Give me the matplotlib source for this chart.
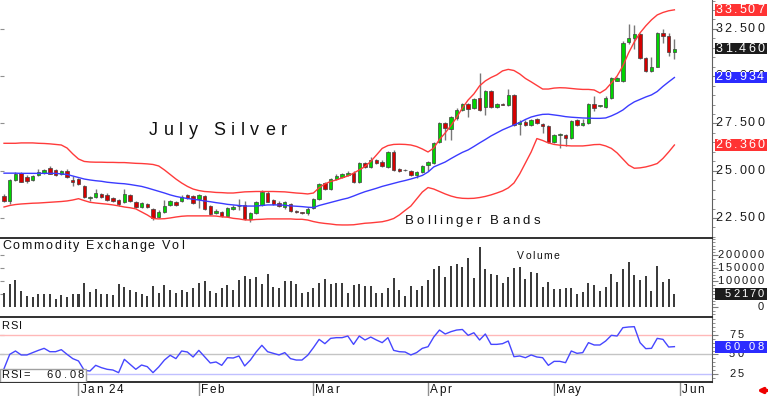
import matplotlib
matplotlib.use('Agg')
import matplotlib.pyplot as plt
import matplotlib.transforms as mtransforms
from matplotlib.patches import Rectangle
from matplotlib.ticker import MultipleLocator
import numpy as np
import pandas as pd

plt.rcParams['font.family'] = ['Liberation Sans', 'DejaVu Sans']

# trading calendar (COMEX closed on these days)
holidays = ['2023-12-25', '2024-01-01', '2024-01-15', '2024-02-19',
            '2024-03-29', '2024-05-27']
calendar = pd.bdate_range('2023-12-12', '2024-06-28')
calendar = calendar[~calendar.isin(pd.to_datetime(holidays))]

opens = [23.67, 23.42, 24.51, 24.88, 24.67, 24.51, 24.78, 24.87, 25.15, 25.04,
         24.83, 25.00, 24.51, 24.56, 24.21, 23.57, 23.60, 23.76, 23.72, 23.56,
         23.45, 23.36, 23.72, 23.36, 23.10, 23.24, 23.00, 22.54, 22.83, 23.19,
         23.36, 23.40, 23.72, 23.67, 23.49, 23.67, 23.15, 22.75, 22.80, 22.63,
         22.98, 23.15, 23.19, 22.47, 22.78, 23.20, 23.81, 23.45, 23.31, 23.10,
         23.22, 22.89, 22.80, 22.78, 23.03, 23.50, 24.34, 24.02, 24.58, 24.67,
         24.78, 24.90, 24.42, 25.39, 25.21, 25.57, 25.48, 25.21, 26.01, 25.09,
         25.06, 25.00, 24.78, 24.92, 25.30, 25.39, 26.51, 27.51, 27.21, 27.78,
         28.22, 28.52, 28.30, 28.83, 28.36, 29.22, 28.39, 28.53, 28.48, 29.01,
         27.48, 27.60, 27.42, 27.74, 27.47, 27.38, 26.51, 26.89, 26.89, 26.75,
         27.69, 27.42, 27.51, 28.55, 28.42, 28.36, 28.83, 29.77, 29.77, 31.83,
         32.04, 32.22, 30.98, 30.28, 30.51, 32.30, 32.15, 31.30]
closes = [23.42, 24.51, 24.83, 24.41, 24.46, 24.72, 24.94, 25.04, 24.83, 24.79,
          24.99, 24.69, 24.41, 24.30, 23.60, 23.63, 23.83, 23.63, 23.45, 23.42,
          23.24, 23.77, 23.40, 23.10, 23.30, 23.08, 22.50, 22.83, 23.13, 23.40,
          23.19, 23.63, 23.58, 23.28, 23.70, 22.98, 22.71, 22.89, 22.62, 23.05,
          23.10, 23.12, 22.45, 22.75, 23.33, 23.86, 23.37, 23.24, 23.15, 23.33,
          22.87, 22.84, 22.77, 22.98, 23.52, 24.28, 24.04, 24.56, 24.73, 24.83,
          24.90, 24.42, 25.41, 25.21, 25.57, 25.39, 25.27, 25.98, 25.04, 24.99,
          25.02, 24.78, 24.95, 25.25, 25.45, 26.45, 27.51, 27.25, 27.86, 28.22,
          28.52, 28.25, 28.80, 28.22, 29.22, 28.39, 28.53, 28.50, 29.01, 27.42,
          27.60, 27.42, 27.69, 27.51, 27.38, 26.51, 26.89, 26.92, 26.75, 27.65,
          27.42, 27.54, 28.52, 28.30, 28.45, 28.83, 29.89, 29.89, 31.78, 32.04,
          32.22, 30.95, 30.28, 30.51, 32.30, 32.15, 31.30, 31.46]
highs = [23.75, 24.55, 24.92, 24.95, 24.76, 24.78, 25.08, 25.08, 25.27, 25.08,
         25.06, 25.08, 24.70, 24.62, 24.25, 23.66, 24.04, 23.84, 23.80, 23.62,
         23.52, 24.04, 23.78, 23.42, 23.36, 23.30, 23.05, 22.90, 23.45, 23.45,
         23.42, 23.70, 23.78, 23.73, 23.76, 23.72, 23.20, 22.95, 22.86, 23.10,
         23.16, 23.50, 23.40, 22.80, 23.38, 24.00, 23.90, 23.52, 23.38, 23.40,
         23.28, 22.94, 22.84, 23.06, 23.58, 24.34, 24.40, 24.62, 24.85, 24.90,
         24.96, 24.96, 25.46, 25.46, 25.75, 25.63, 25.55, 26.04, 26.10, 25.14,
         25.10, 25.05, 25.00, 25.30, 25.50, 26.50, 27.56, 27.56, 27.92, 28.30,
         28.60, 28.58, 28.86, 30.16, 29.28, 29.26, 28.60, 28.58, 29.30, 29.06,
         27.66, 27.66, 27.75, 27.80, 27.52, 27.42, 26.95, 27.01, 26.95, 27.70,
         27.74, 27.75, 28.56, 28.95, 28.50, 28.95, 29.95, 29.95, 31.84, 32.76,
         32.70, 32.26, 31.02, 31.03, 32.36, 32.48, 32.27, 31.96]
lows = [23.35, 23.24, 24.45, 24.38, 24.36, 24.47, 24.70, 24.84, 24.80, 24.74,
        24.78, 24.64, 24.20, 24.24, 23.55, 23.40, 23.55, 23.58, 23.40, 23.36,
        23.15, 23.30, 23.34, 23.05, 23.04, 23.02, 22.40, 22.48, 22.78, 23.14,
        23.14, 23.35, 23.52, 23.22, 23.05, 22.90, 22.65, 22.70, 22.57, 22.58,
        22.93, 22.92, 22.40, 22.30, 22.73, 23.15, 23.32, 23.18, 23.08, 22.95,
        22.82, 22.78, 22.72, 22.66, 22.98, 23.45, 23.98, 23.96, 24.52, 24.60,
        24.72, 24.36, 24.36, 25.15, 25.15, 25.33, 25.21, 25.15, 24.98, 24.92,
        24.97, 24.72, 24.62, 24.86, 25.00, 25.33, 26.45, 26.65, 26.65, 27.70,
        28.17, 27.86, 28.24, 28.15, 27.95, 28.30, 28.34, 28.45, 28.43, 27.36,
        26.90, 27.36, 27.36, 27.45, 27.00, 26.45, 26.45, 26.19, 26.30, 26.70,
        27.36, 27.38, 27.46, 28.15, 28.36, 28.30, 28.78, 29.72, 29.68, 31.70,
        31.45, 30.90, 30.22, 30.22, 30.46, 31.77, 31.09, 30.90]

bb_upper = [26.45, 26.45, 26.45, 26.47, 26.47, 26.47, 26.45, 26.44, 26.42, 26.39,
            26.36, 26.20, 25.89, 25.62, 25.49, 25.46, 25.45, 25.45, 25.44, 25.44,
            25.43, 25.43, 25.41, 25.39, 25.38, 25.36, 25.33, 25.25, 25.04, 24.80,
            24.56, 24.35, 24.17, 24.03, 23.95, 23.90, 23.88, 23.85, 23.84, 23.82,
            23.82, 23.85, 23.88, 23.89, 23.90, 23.90, 23.90, 23.90, 23.89, 23.88,
            23.85, 23.82, 23.80, 23.77, 23.82, 24.10, 24.30, 24.43, 24.51, 24.62,
            24.72, 24.87, 25.04, 25.22, 25.49, 25.83, 26.18, 26.33, 26.39, 26.40,
            26.39, 26.36, 26.28, 26.15, 25.99, 26.20, 26.65, 27.00, 27.39, 27.82,
            28.32, 28.74, 29.06, 29.49, 29.75, 29.93, 30.07, 30.28, 30.36, 30.30,
            30.12, 29.88, 29.70, 29.51, 29.32, 29.32, 29.37, 29.39, 29.38, 29.35,
            29.32, 29.30, 29.30, 29.27, 29.11, 29.30, 29.64, 30.01, 30.54, 31.23,
            31.81, 32.29, 32.66, 32.98, 33.24, 33.37, 33.46, 33.51]
bb_mid = [24.87, 24.87, 24.87, 24.86, 24.86, 24.86, 24.86, 24.86, 24.86, 24.86,
          24.83, 24.80, 24.72, 24.64, 24.56, 24.51, 24.47, 24.44, 24.39, 24.36,
          24.33, 24.31, 24.27, 24.22, 24.17, 24.09, 24.00, 23.91, 23.82, 23.72,
          23.64, 23.58, 23.53, 23.49, 23.45, 23.40, 23.36, 23.31, 23.27, 23.22,
          23.19, 23.16, 23.13, 23.13, 23.13, 23.16, 23.19, 23.19, 23.19, 23.17,
          23.14, 23.12, 23.10, 23.07, 23.05, 23.16, 23.24, 23.32, 23.40, 23.48,
          23.55, 23.66, 23.78, 23.89, 23.98, 24.07, 24.17, 24.25, 24.33, 24.41,
          24.48, 24.56, 24.65, 24.75, 24.93, 25.20, 25.33, 25.46, 25.64, 25.81,
          25.97, 26.10, 26.28, 26.47, 26.65, 26.84, 27.00, 27.16, 27.29, 27.42,
          27.55, 27.71, 27.84, 27.92, 27.98, 27.99, 27.95, 27.91, 27.86, 27.83,
          27.81, 27.79, 27.78, 27.77, 27.77, 27.79, 27.90, 28.04, 28.21, 28.45,
          28.64, 28.77, 28.90, 29.01, 29.19, 29.46, 29.70, 29.93]
bb_lower = [23.08, 23.16, 23.21, 23.24, 23.26, 23.28, 23.29, 23.31, 23.33, 23.35,
            23.37, 23.40, 23.45, 23.52, 23.42, 23.33, 23.29, 23.26, 23.23, 23.19,
            23.14, 23.08, 23.04, 22.98, 22.82, 22.66, 22.47, 22.45, 22.46, 22.50,
            22.55, 22.59, 22.61, 22.61, 22.61, 22.61, 22.61, 22.60, 22.56, 22.54,
            22.48, 22.45, 22.40, 22.39, 22.42, 22.43, 22.45, 22.45, 22.45, 22.45,
            22.45, 22.43, 22.43, 22.39, 22.31, 22.25, 22.21, 22.18, 22.14, 22.13,
            22.13, 22.14, 22.18, 22.22, 22.24, 22.27, 22.30, 22.37, 22.47, 22.66,
            22.90, 23.13, 23.50, 23.87, 24.11, 24.03, 23.90, 23.77, 23.66, 23.58,
            23.54, 23.53, 23.54, 23.58, 23.64, 23.72, 23.82, 23.93, 24.09, 24.35,
            24.83, 25.41, 25.99, 26.70, 26.60, 26.47, 26.39, 26.35, 26.33, 26.31,
            26.31, 26.31, 26.34, 26.38, 26.39, 26.31, 26.18, 25.94, 25.62, 25.30,
            25.13, 25.15, 25.20, 25.28, 25.38, 25.65, 25.99, 26.36]

volume = [57000, 89000, 106000, 63000, 44000, 40000, 51000, 51000, 51000, 31000,
          47000, 40000, 51000, 53000, 93000, 60000, 70000, 53000, 51000, 48000,
          89000, 79000, 67000, 60000, 51000, 44000, 83000, 55000, 85000, 66000,
          57000, 67000, 60000, 74000, 96000, 102000, 63000, 55000, 76000, 85000,
          67000, 104000, 121000, 108000, 119000, 92000, 128000, 79000, 76000, 102000,
          102000, 92000, 57000, 61000, 76000, 93000, 111000, 92000, 96000, 93000,
          57000, 85000, 89000, 83000, 83000, 55000, 55000, 76000, 112000, 66000,
          44000, 83000, 66000, 83000, 106000, 147000, 160000, 119000, 160000, 166000,
          156000, 189000, 115000, 233000, 147000, 130000, 124000, 96000, 117000, 153000,
          156000, 108000, 138000, 134000, 80000, 98000, 72000, 72000, 74000, 74000,
          52000, 60000, 93000, 87000, 63000, 79000, 128000, 98000, 147000, 175000,
          125000, 106000, 121000, 63000, 160000, 98000, 111000, 52170]

rsi = [31.8, 50.2, 54.5, 49.4, 49.4, 52.4, 55.3, 57.9, 53.6, 53.6,
       56.2, 50.2, 44.7, 41.7, 29.7, 28.8, 36.1, 33.1, 31.0, 30.1,
       26.7, 43.8, 37.4, 31.0, 36.5, 34.4, 26.7, 34.0, 42.9, 49.0,
       44.7, 54.5, 53.2, 46.8, 55.3, 47.2, 39.1, 40.4, 36.1, 45.9,
       45.5, 48.1, 35.3, 42.9, 53.2, 61.8, 53.6, 51.5, 49.4, 52.4,
       44.7, 42.9, 42.9, 49.0, 58.8, 69.4, 63.9, 70.7, 71.6, 71.6,
       73.7, 63.0, 73.7, 68.6, 72.4, 68.6, 65.2, 71.6, 55.3, 53.6,
       53.2, 49.4, 52.4, 57.9, 60.0, 72.4, 81.4, 76.3, 79.3, 81.4,
       82.1, 74.6, 77.9, 68.6, 76.3, 63.0, 63.0, 63.9, 67.3, 47.2,
       48.1, 45.9, 49.4, 46.8, 45.9, 36.1, 41.2, 41.2, 39.5, 54.5,
       51.5, 52.4, 65.2, 62.2, 62.2, 67.3, 74.6, 73.7, 84.4, 85.3,
       85.7, 65.2, 57.5, 57.9, 70.7, 69.4, 59.6, 60.08]

price_ticks = [22.5, 25.0, 27.5, 30.0, 32.5]
price_labels = ['22.500', '25.000', '27.500', '30.000', '32.500']
price_flags = [33.507, 31.460, 29.934, 26.360]
price_flag_colors = ['#ff3333', '#1c1c1c', '#2b2bff', '#ff3333']
vol_ticks = [0, 50000, 100000, 150000, 200000]
vol_labels = ['0', '', '100000', '150000', '200000']
rsi_ticks = [25, 50, 75]
rsi_labels = ['25', '50', '75']

n = len(closes)
assert all(len(a) == n for a in (opens, highs, lows, bb_upper, bb_mid,
                                 bb_lower, volume, rsi))
x = np.arange(n)
o = np.array(opens)
c = np.array(closes)

W, H = 768, 396
RIGHT = 764  # right edge of the scale labels, in pixels
fig = plt.figure(figsize=(W / 100, H / 100), dpi=100)
axw = 712 / W
ax_p = fig.add_axes([0, 1 - 238 / H, axw, 238 / H])
ax_v = fig.add_axes([0, 1 - 316.7 / H, axw, 78.7 / H], sharex=ax_p)
ax_r = fig.add_axes([0, 1 - 381.7 / H, axw, 65 / H], sharex=ax_p)
renderer = fig.canvas.get_renderer()


def tracked(ax, xx, yy, s, size, track, transform, ha='left', **kw):
    # text with extra letter spacing, like the bitmap font of the original
    scale = fig.dpi / 72
    widths = []
    for ch in s:
        if ch == ' ':
            widths.append(0.278 * size * scale)
        else:
            t = fig.text(0, 0, ch, fontsize=size)
            widths.append(t.get_window_extent(renderer).width)
            t.remove()
    total = sum(widths) + track * (len(s) - 1)
    dx = -total if ha == 'right' else 0.0
    for ch, w in zip(s, widths):
        if ch != ' ':
            tr = mtransforms.offset_copy(transform, fig=fig, x=dx, y=0, units='dots')
            ax.text(xx, yy, ch, transform=tr, fontsize=size, ha='left',
                    clip_on=False, **kw)
        dx += w + track


def flag(ax, value, label, fc, size, track):
    ylo, yhi = ax.get_ylim()
    h = 11.8 * (yhi - ylo) / (ax.get_position().height * H)
    tr = mtransforms.blended_transform_factory(fig.transFigure, ax.transData)
    ax.add_patch(Rectangle((715 / W, value - h / 2), 52 / W, h, transform=tr,
                           fc=fc, ec='none', clip_on=False, zorder=5))
    tracked(ax, RIGHT / 712, value, label, size, track,
            mtransforms.blended_transform_factory(ax.transAxes, ax.transData),
            ha='right', va='center', color='white', zorder=6)


for ax in (ax_p, ax_v, ax_r):
    ax.spines['left'].set_visible(False)
    ax.spines['bottom'].set_visible(False)
    ax.spines['right'].set_color('#606060')
    ax.spines['top'].set_color('#202020')
    ax.spines['top'].set_linewidth(1.3)
    ax.yaxis.tick_right()
    ax.tick_params(axis='y', which='both', direction='out', colors='#808080',
                   labelright=False)
    ax.tick_params(axis='y', which='major', length=4, width=0.8)
    ax.tick_params(axis='y', which='minor', length=2, width=0.6)
    ax.tick_params(axis='x', which='both', bottom=False, labelbottom=False)
ax_p.spines['top'].set_visible(False)
ax_r.spines['bottom'].set_visible(True)
ax_r.spines['bottom'].set_color('#202020')
ax_r.spines['bottom'].set_linewidth(1.3)

ax_p.set_xlim(-0.7, 123.56)

# price panel: candles + Bollinger bands
up = c >= o
ax_p.vlines(x, lows, highs, color='#777777', lw=1, zorder=2)
ax_p.bar(x, np.maximum(np.abs(c - o), 0.03), bottom=np.minimum(o, c), width=0.6,
         color=np.where(up, '#00d400', '#d40000'), edgecolor='#404040',
         linewidth=0.5, zorder=3)
ax_p.plot(x, bb_upper, color='#ff3b3b', lw=1, zorder=4)
ax_p.plot(x, bb_lower, color='#ff3b3b', lw=1, zorder=4)
ax_p.plot(x, bb_mid, color='#3b3bff', lw=1, zorder=4)
ax_p.set_ylim(21.44, 34.03)
ax_p.set_yticks(price_ticks)
ax_p.yaxis.set_minor_locator(MultipleLocator(0.5))

# volume panel
ax_v.bar(x, volume, width=0.35, color='#3c3c3c')
ax_v.set_ylim(-35400, 267300)
ax_v.set_yticks(vol_ticks)
ax_v.yaxis.set_minor_locator(MultipleLocator(12500))

# RSI panel
ax_r.axhline(75, color='#ffb8b8', lw=1)
ax_r.axhline(50, color='#c4c4c4', lw=1)
ax_r.axhline(25, color='#c0c0ff', lw=1)
ax_r.plot(x, rsi, color='#4646ff', lw=1, zorder=3)
ax_r.set_ylim(15.1, 98.5)
ax_r.set_yticks(rsi_ticks)
ax_r.yaxis.set_minor_locator(MultipleLocator(5))

# small inward ticks on the left edge
for ax, ticks in ((ax_p, price_ticks), (ax_v, vol_ticks[1:]), (ax_r, rsi_ticks)):
    sec = ax.secondary_yaxis('left')
    sec.set_yticks(ticks)
    sec.tick_params(direction='in', length=3, colors='#909090', labelleft=False)
    sec.spines['left'].set_visible(False)

# month ticks under the RSI panel
month_idx = [i for i in range(1, len(calendar))
             if calendar[i].month != calendar[i - 1].month and i < 123]
month_lab = ['Jan 24' if calendar[i].month == 1 else calendar[i].strftime('%b')
             for i in month_idx]
ax_r.set_xticks(month_idx)
ax_r.tick_params(axis='x', bottom=True, direction='out', length=10, width=1,
                 color='#909090', labelbottom=False)
date_tr = mtransforms.blended_transform_factory(ax_r.transData, ax_r.transAxes)
for i, lab in zip(month_idx, month_lab):
    tracked(ax_r, i + 0.35, -0.178, lab, 8.5, 1.5, date_tr, va='baseline',
            color='#111111')

# right-hand scale labels
blend = lambda ax: mtransforms.blended_transform_factory(ax.transAxes, ax.transData)
for v, lab in zip(price_ticks, price_labels):
    tracked(ax_p, RIGHT / 712, v, lab, 9, 2.0, blend(ax_p), ha='right',
            va='center', color='#1a1a1a', zorder=3)
for v, col in zip(price_flags, price_flag_colors):
    flag(ax_p, v, f'{v:.3f}', col, 9, 2.0)
for v, lab in zip(vol_ticks, vol_labels):
    if lab:
        tracked(ax_v, RIGHT / 712, v, lab, 8, 2.0, blend(ax_v), ha='right',
                va='center', color='#1a1a1a', zorder=3)
flag(ax_v, volume[-1], str(volume[-1]), '#1c1c1c', 8, 2.1)
for v, lab in zip(rsi_ticks, rsi_labels):
    tracked(ax_r, 729 / 712, v, lab, 8, 2.5, blend(ax_r), va='center',
            color='#1a1a1a', zorder=3)
flag(ax_r, rsi[-1], f'{rsi[-1]:.2f}', '#2b2bff', 8, 3.0)

# panel captions
tracked(ax_p, 149 / 712, 0.433, 'July Silver', 13, 5.5, ax_p.transAxes,
        va='baseline', color='#111111')
tracked(ax_p, 405 / 712, 0.059, 'Bollinger Bands', 9.5, 3.0, ax_p.transAxes,
        va='baseline', color='#111111')
tracked(ax_v, 2 / 712, 0.864, 'Commodity Exchange Vol', 9, 1.8, ax_v.transAxes,
        va='baseline', color='#111111')
tracked(ax_v, 517 / 712, 0.737, 'Volume', 7.5, 1.5, ax_v.transAxes,
        va='baseline', color='#111111')
tracked(ax_r, 1 / 712, 0.815, 'RSI', 8, 1.5, ax_r.transAxes,
        va='baseline', color='#111111')

# current RSI read-out box
ax_r.add_patch(Rectangle((0, 0), 86 / 712, 12.4 / 65, transform=ax_r.transAxes,
                         fc='white', ec='#a0a0a0', lw=1, zorder=5))
tracked(ax_r, 1 / 712, 0.062, 'RSI=', 8, 1.5, ax_r.transAxes, va='baseline',
        color='#111111', zorder=6)
tracked(ax_r, 84 / 712, 0.062, f'{rsi[-1]:.2f}', 8, 2.5, ax_r.transAxes,
        ha='right', va='baseline', color='#111111', zorder=6)

# little red scroll arrow, bottom right
ax_r.annotate('', xy=(757 / W, 1 - 390.5 / H), xytext=(767 / W, 1 - 390.5 / H),
              xycoords='figure fraction',
              arrowprops=dict(arrowstyle='-|>', color='#ee0000', lw=2.5,
                              mutation_scale=7, shrinkA=0, shrinkB=0))

fig.savefig('out.png', dpi=100)
